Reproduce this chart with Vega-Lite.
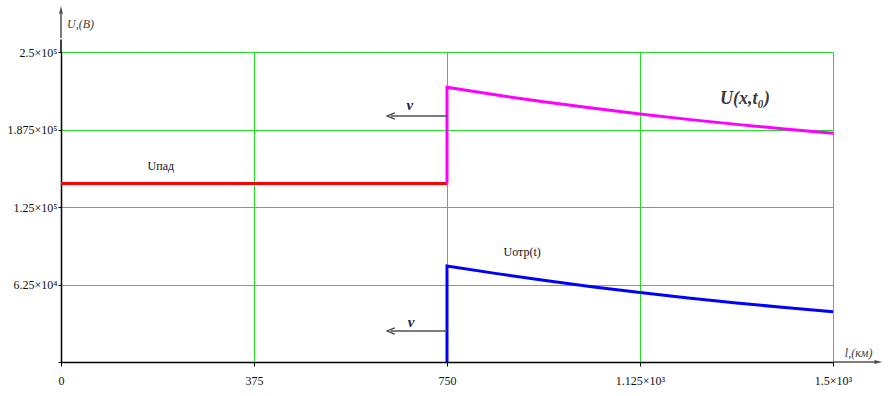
{
  "$schema": "https://vega.github.io/schema/vega-lite/v6.json",
  "width": 772,
  "height": 310,
  "autosize": {"type": "none"},
  "padding": {"left": 61, "top": 52, "right": 56, "bottom": 34},
  "background": "white",
  "config": {"view": {"stroke": null}, "font": "Liberation Serif"},
  "datasets": {
    "lines": [
      {"s": "pad", "i": 0, "x": 0, "y": 144000},
      {"s": "pad", "i": 1, "x": 750, "y": 144000},
      {"s": "U", "i": 0, "x": 750, "y": 144000},
      {"s": "U", "i": 1, "x": 750, "y": 221500},
      {"s": "U", "i": 2, "x": 843.75, "y": 215460},
      {"s": "U", "i": 3, "x": 937.5, "y": 209900},
      {"s": "U", "i": 4, "x": 1031.25, "y": 204760},
      {"s": "U", "i": 5, "x": 1125, "y": 200030},
      {"s": "U", "i": 6, "x": 1218.75, "y": 195660},
      {"s": "U", "i": 7, "x": 1312.5, "y": 191630},
      {"s": "U", "i": 8, "x": 1406.25, "y": 187920},
      {"s": "U", "i": 9, "x": 1500, "y": 184500},
      {"s": "otr", "i": 0, "x": 750, "y": 0},
      {"s": "otr", "i": 1, "x": 750, "y": 77500},
      {"s": "otr", "i": 2, "x": 843.75, "y": 71460},
      {"s": "otr", "i": 3, "x": 937.5, "y": 65900},
      {"s": "otr", "i": 4, "x": 1031.25, "y": 60760},
      {"s": "otr", "i": 5, "x": 1125, "y": 56030},
      {"s": "otr", "i": 6, "x": 1218.75, "y": 51660},
      {"s": "otr", "i": 7, "x": 1312.5, "y": 47630},
      {"s": "otr", "i": 8, "x": 1406.25, "y": 43920},
      {"s": "otr", "i": 9, "x": 1500, "y": 40500}
    ],
    "grayRules": [
      {"x": 0, "x2": 0, "y": 261000, "y2": 283000},
      {"x": 1500, "x2": 1585, "y": 0, "y2": 0},
      {"x": 641, "x2": 750, "y": 198400, "y2": 198400},
      {"x": 641, "x2": 750, "y": 25000, "y2": 25000}
    ],
    "blackRules": [
      {"x": 0, "x2": 0, "y": 250000, "y2": 260000}
    ],
    "chevrons": [
      {"x": 641, "y": 198400},
      {"x": 641, "y": 25000}
    ],
    "headUp": [{"x": 0, "y": 284000}],
    "headRight": [{"x": 1588, "y": 0}],
    "plainLabels": [
      {"x": 194, "y": 158065, "t": "Uпад"},
      {"x": 896, "y": 88710, "t": "Uотр(t)"}
    ],
    "bigLabel": [{"x": 1329, "y": 212097, "t": "U(x,t₀)"}],
    "vLabels": [
      {"x": 678, "y": 207500, "t": "v"},
      {"x": 680, "y": 32258, "t": "v"}
    ],
    "axisTitles": [
      {"x": 11.7, "y": 272580, "t": "U,(B)"},
      {"x": 1523, "y": 7000, "t": "l,(км)"}
    ]
  },
  "layer": [
    {
      "data": {"name": "lines"},
      "mark": {"type": "line", "strokeWidth": 3},
      "encoding": {
        "x": {
          "field": "x", "type": "quantitative",
          "scale": {"domain": [0, 1500], "nice": false, "zero": false},
          "axis": {
            "values": [0, 375, 750, 1125, 1500],
            "grid": true, "gridColor": "#22e022", "gridWidth": 1,
            "domainColor": "#000000", "domainWidth": 1.5,
            "tickColor": "#000000", "tickSize": 4, "tickWidth": 1,
            "labelFont": "Liberation Serif", "labelFontSize": 12, "labelColor": "#111111",
            "labelPadding": 9, "labelFlush": false, "labelOverlap": false,
            "labelExpr": "datum.value == 1125 ? '1.125×10³' : datum.value == 1500 ? '1.5×10³' : datum.value == 0 ? '0' : format(datum.value, 'd')",
            "title": null
          }
        },
        "y": {
          "field": "y", "type": "quantitative",
          "scale": {"domain": [0, 250000], "nice": false, "zero": true},
          "axis": {
            "values": [0, 62500, 125000, 187500, 250000],
            "grid": true, "gridColor": "#22e022", "gridWidth": 1,
            "domainColor": "#000000", "domainWidth": 1.5,
            "tickColor": "#000000", "tickSize": 3, "tickWidth": 1,
            "labelFont": "Liberation Serif", "labelFontSize": 12, "labelColor": "#111111",
            "labelPadding": 1, "labelFlush": false, "labelOverlap": false,
            "labelExpr": "datum.value == 250000 ? '2.5×10⁵' : datum.value == 187500 ? '1.875×10⁵' : datum.value == 125000 ? '1.25×10⁵' : datum.value == 62500 ? '6.25×10⁴' : ''",
            "title": null
          }
        },
        "color": {
          "field": "s", "type": "nominal",
          "scale": {"domain": ["pad", "U", "otr"], "range": ["#ff0000", "#ff00ff", "#0000ff"]},
          "legend": null
        },
        "order": {"field": "i", "type": "quantitative"}
      }
    },
    {
      "data": {"name": "grayRules"},
      "mark": {"type": "rule", "color": "#505050", "strokeWidth": 1.5},
      "encoding": {
        "x": {"field": "x", "type": "quantitative"},
        "x2": {"field": "x2"},
        "y": {"field": "y", "type": "quantitative"},
        "y2": {"field": "y2"}
      }
    },
    {
      "data": {"name": "blackRules"},
      "mark": {"type": "rule", "color": "#000000", "strokeWidth": 1.5},
      "encoding": {
        "x": {"field": "x", "type": "quantitative"},
        "x2": {"field": "x2"},
        "y": {"field": "y", "type": "quantitative"},
        "y2": {"field": "y2"}
      }
    },
    {
      "data": {"name": "chevrons"},
      "mark": {"type": "point", "shape": "M 1 -0.8 L -1 0 L 1 0.8", "filled": false, "stroke": "#404040", "strokeWidth": 1.2, "size": 60, "opacity": 1},
      "encoding": {
        "x": {"field": "x", "type": "quantitative"},
        "y": {"field": "y", "type": "quantitative"}
      }
    },
    {
      "data": {"name": "headUp"},
      "mark": {"type": "point", "shape": "M -0.5 1 L 0 -1 L 0.5 1 Z", "filled": true, "color": "#505050", "size": 60, "opacity": 1},
      "encoding": {
        "x": {"field": "x", "type": "quantitative"},
        "y": {"field": "y", "type": "quantitative"}
      }
    },
    {
      "data": {"name": "headRight"},
      "mark": {"type": "point", "shape": "M -1 -0.5 L 1 0 L -1 0.5 Z", "filled": true, "color": "#505050", "size": 60, "opacity": 1},
      "encoding": {
        "x": {"field": "x", "type": "quantitative"},
        "y": {"field": "y", "type": "quantitative"}
      }
    },
    {
      "data": {"name": "plainLabels"},
      "mark": {"type": "text", "font": "Liberation Serif", "fontSize": 12, "color": "#111111", "align": "center", "baseline": "middle"},
      "encoding": {
        "x": {"field": "x", "type": "quantitative"},
        "y": {"field": "y", "type": "quantitative"},
        "text": {"field": "t"}
      }
    },
    {
      "data": {"name": "bigLabel"},
      "mark": {"type": "text", "font": "Liberation Serif", "fontSize": 18, "fontStyle": "italic", "fontWeight": "bold", "color": "#3a3a3a", "align": "center", "baseline": "middle"},
      "encoding": {
        "x": {"field": "x", "type": "quantitative"},
        "y": {"field": "y", "type": "quantitative"},
        "text": {"field": "t"}
      }
    },
    {
      "data": {"name": "vLabels"},
      "mark": {"type": "text", "font": "Liberation Serif", "fontSize": 15, "fontStyle": "italic", "fontWeight": "bold", "color": "#1c1c5c", "align": "center", "baseline": "middle"},
      "encoding": {
        "x": {"field": "x", "type": "quantitative"},
        "y": {"field": "y", "type": "quantitative"},
        "text": {"field": "t"}
      }
    },
    {
      "data": {"name": "axisTitles"},
      "mark": {"type": "text", "font": "Liberation Serif", "fontSize": 12, "fontStyle": "italic", "color": "#404040", "align": "left", "baseline": "middle"},
      "encoding": {
        "x": {"field": "x", "type": "quantitative"},
        "y": {"field": "y", "type": "quantitative"},
        "text": {"field": "t"}
      }
    }
  ]
}
